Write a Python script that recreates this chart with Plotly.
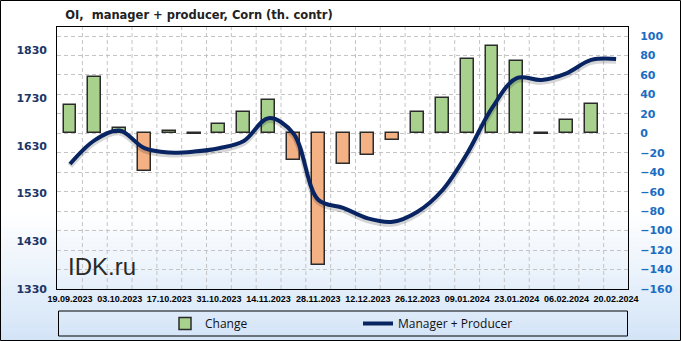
import plotly.graph_objects as go

# ---------------- data ----------------
dates = ["19.09.2023", "26.09.2023", "03.10.2023", "10.10.2023", "17.10.2023",
         "24.10.2023", "31.10.2023", "07.11.2023", "14.11.2023", "21.11.2023",
         "28.11.2023", "05.12.2023", "12.12.2023", "19.12.2023", "26.12.2023",
         "02.01.2024", "09.01.2024", "16.01.2024", "23.01.2024", "30.01.2024",
         "06.02.2024", "13.02.2024", "20.02.2024"]
change = [29, 58, 6, -39, 2, -1, 10, 22, 34, -27, -135, -31, -22, -7, 22, 36,
          76, 90, 74, -1, 14, 30, None]
manager_producer = [1592, 1642, 1662, 1625, 1616, 1618, 1625, 1640, 1688, 1656,
                    1517, 1500, 1478, 1471, 1492, 1537, 1614, 1709, 1772, 1768,
                    1782, 1810, 1812]
left_ticks = [1330, 1430, 1530, 1630, 1730, 1830]
right_ticks = list(range(-160, 101, 20))
label_step = 2

# ---------------- geometry helpers ----------------
W, H = 681, 341
L, R, T, B = 57, 53, 27, 52
PW, PH = W - L - R, H - T - B


def px_x(px):
    return (px - L) / PW


def px_y(py):
    return (H - B - py) / PH


idx = list(range(len(dates)))
pos_col, neg_col = "#a9d18e", "#f4b183"
bar_colors = [pos_col if (v is None or v >= 0) else neg_col for v in change]

fig = go.Figure()

fig.add_trace(go.Bar(
    x=idx, y=change, width=0.52, name="Change",
    marker=dict(color=bar_colors, line=dict(color="#2b2b2b", width=1.5)),
    yaxis="y", legend="legend", hoverinfo="skip"))

# soft shadow under the line
fig.add_trace(go.Scatter(
    x=idx, y=[v - 4 for v in manager_producer], mode="lines",
    line=dict(color="rgba(0,0,0,0.16)", width=6, shape="spline", smoothing=1),
    yaxis="y2", showlegend=False, hoverinfo="skip"))

fig.add_trace(go.Scatter(
    x=idx, y=manager_producer, mode="lines", name="Manager + Producer",
    line=dict(color="#082462", width=4, shape="spline", smoothing=1),
    yaxis="y2", legend="legend2"))

shapes = []
# background gradient (white -> light blue) at the bottom part
N = 30
top_px, bot_px = 212, 341
c0 = (255, 255, 255)
c1 = (211, 228, 247)
for i in range(N):
    t = (i + 0.5) / N
    col = tuple(round(c0[k] + (c1[k] - c0[k]) * t) for k in range(3))
    y0 = top_px + (bot_px - top_px) * i / N
    y1 = top_px + (bot_px - top_px) * (i + 1) / N + 0.6
    shapes.append(dict(type="rect", xref="paper", yref="paper",
                       x0=px_x(-1), x1=px_x(W + 1), y0=px_y(y1), y1=px_y(y0),
                       line=dict(width=0), fillcolor="rgb(%d,%d,%d)" % col,
                       layer="below"))
# vertical dashed gridlines between categories
for i in range(len(dates) - 1):
    shapes.append(dict(type="line", xref="x", yref="paper", x0=i + 0.5, x1=i + 0.5,
                       y0=0, y1=1, line=dict(color="#c4c4c4", width=1, dash="4px,3px"),
                       layer="below"))
# legend frame
shapes.append(dict(type="rect", xref="paper", yref="paper",
                   x0=px_x(58.5), x1=px_x(627.5), y0=px_y(336), y1=px_y(311),
                   line=dict(color="black", width=1), fillcolor="rgba(0,0,0,0)"))
# outer frame
shapes.append(dict(type="rect", xref="paper", yref="paper",
                   x0=px_x(0.5), x1=px_x(680.5), y0=px_y(340.5), y1=px_y(0.5),
                   line=dict(color="black", width=1), fillcolor="rgba(0,0,0,0)"))

axis_font_l = dict(family="DejaVu Sans", size=11, color="#1c3566", weight="bold")
axis_font_r = dict(family="DejaVu Sans", size=11, color="#1a6dc2", weight="bold")
legend_font = dict(family="Open Sans", size=12, color="#111111")

fig.update_layout(
    width=W, height=H,
    margin=dict(l=L, r=R, t=T, b=B, autoexpand=False),
    paper_bgcolor="white", plot_bgcolor="rgba(0,0,0,0)",
    bargap=0,
    title=dict(text="OI,  manager + producer, Corn (th. contr)",
               font=dict(family="DejaVu Sans", size=11.5, color="#222222", weight="bold"),
               x=199 / W, xref="container", xanchor="center",
               y=1 - 15 / H, yref="container", yanchor="middle"),
    xaxis=dict(range=[-0.524, 22.48], tickmode="array",
               tickvals=idx[::label_step], ticktext=dates[::label_step],
               tickfont=dict(family="Liberation Sans", size=9, color="black", weight="bold"),
               showgrid=False, zeroline=False, showline=True, mirror=True,
               linecolor="black", linewidth=1, ticks="", ticklabelstandoff=1),
    yaxis=dict(side="right", range=[-160, 109.3], tickmode="array", tickvals=right_ticks,
               tickfont=axis_font_r, showgrid=True, gridcolor="#c4c4c4",
               griddash="4px,3px", gridwidth=1, zeroline=False, showline=True,
               mirror=True, linecolor="black", linewidth=1, ticks="",
               ticklabelstandoff=9),
    yaxis2=dict(overlaying="y", side="left", range=[1330, 1879], tickmode="array",
                tickvals=left_ticks, tickfont=axis_font_l, showgrid=False,
                zeroline=False, showline=False, ticks="", ticklabelstandoff=9),
    legend=dict(x=px_x(165), y=px_y(323.5), xanchor="left", yanchor="middle",
                orientation="h", bgcolor="rgba(0,0,0,0)", borderwidth=0,
                font=legend_font, itemwidth=30),
    legend2=dict(x=px_x(358), y=px_y(323.5), xanchor="left", yanchor="middle",
                 orientation="h", bgcolor="rgba(0,0,0,0)", borderwidth=0,
                 font=legend_font, itemwidth=30),
    shapes=shapes,
    annotations=[dict(text="IDK.ru", xref="paper", yref="paper",
                      x=px_x(66), y=px_y(266), xanchor="left", yanchor="middle",
                      showarrow=False,
                      font=dict(family="Liberation Sans", size=24, color="#2a2a2a"))],
)

fig.write_html("out.html")
